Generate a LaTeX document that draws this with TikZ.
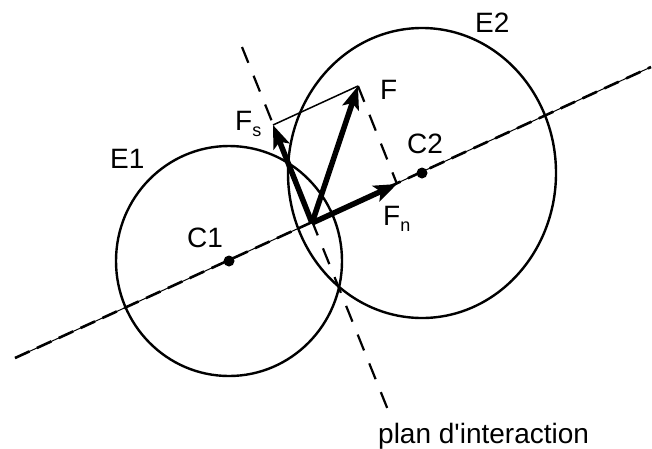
\documentclass[tikz,border=0pt]{standalone}
\usepackage{fontspec}
\setmainfont{Liberation Sans}
\usetikzlibrary{arrows.meta}

\begin{document}
\begin{tikzpicture}[x=1pt, y=-1pt,
    label node/.style={anchor=base west, inner sep=0pt, font=\fontsize{28}{32}\selectfont},
    body/.style={line width=2.4pt},
    force/.style={line width=5.5pt, -{Stealth[length=23pt, width=17pt, inset=5pt]}},
    plan line/.style={line width=2.2pt, dash pattern=on 17pt off 14pt},
    center line/.style={line width=2.6pt, dash pattern=on 16pt off 8pt}]
    \useasboundingbox (0,0) rectangle (652,448);

    \coordinate (c1) at (229,261);
    \coordinate (c2) at (422,173);
    \coordinate (o) at (312,223);
    \coordinate (fn) at (397,184);
    \coordinate (fs) at (273,125);
    \coordinate (f) at (358,86);

    \coordinate (axisstart) at (15,358);
    \coordinate (axisend) at (651,67);
    \coordinate (planstart) at (242,47);
    \coordinate (planend) at (388,410);

    \draw[body] (c1) ellipse [x radius=113pt, y radius=115pt];
    \draw[body] (c2) ellipse [x radius=134pt, y radius=145pt];

    \draw[line width=1pt] (axisstart) -- (axisend);
    \draw[center line] (axisstart) -- (axisend);
    \draw[plan line] (planstart) -- (planend);

    \draw[line width=1.5pt] (fs) -- (f);
    \draw[plan line] (f) -- (fn);

    \fill (c1) circle [radius=5.5pt];
    \fill (c2) circle [radius=5.5pt];

    \draw[force] (o) -- (fn);
    \draw[force] (o) -- (fs);
    \draw[force] (o) -- (f);

    \node[label node] (e1label) at (110,168) {E1};
    \node[label node] (e2label) at (475,32) {E2};
    \node[label node] (c1label) at (187,247) {C1};
    \node[label node] (c2label) at (407,153) {C2};
    \node[label node] (flabel) at (380,99) {F};
    \node[label node] (fslabel) at (235,130) {F\raisebox{-6pt}{\fontsize{18}{18}\selectfont s}};
    \node[label node] (fnlabel) at (383,225) {F\raisebox{-6pt}{\fontsize{18}{18}\selectfont n}};
    \node[label node] (planlabel) at (378,443) {plan d\textquotesingle interaction};
\end{tikzpicture}
\end{document}
